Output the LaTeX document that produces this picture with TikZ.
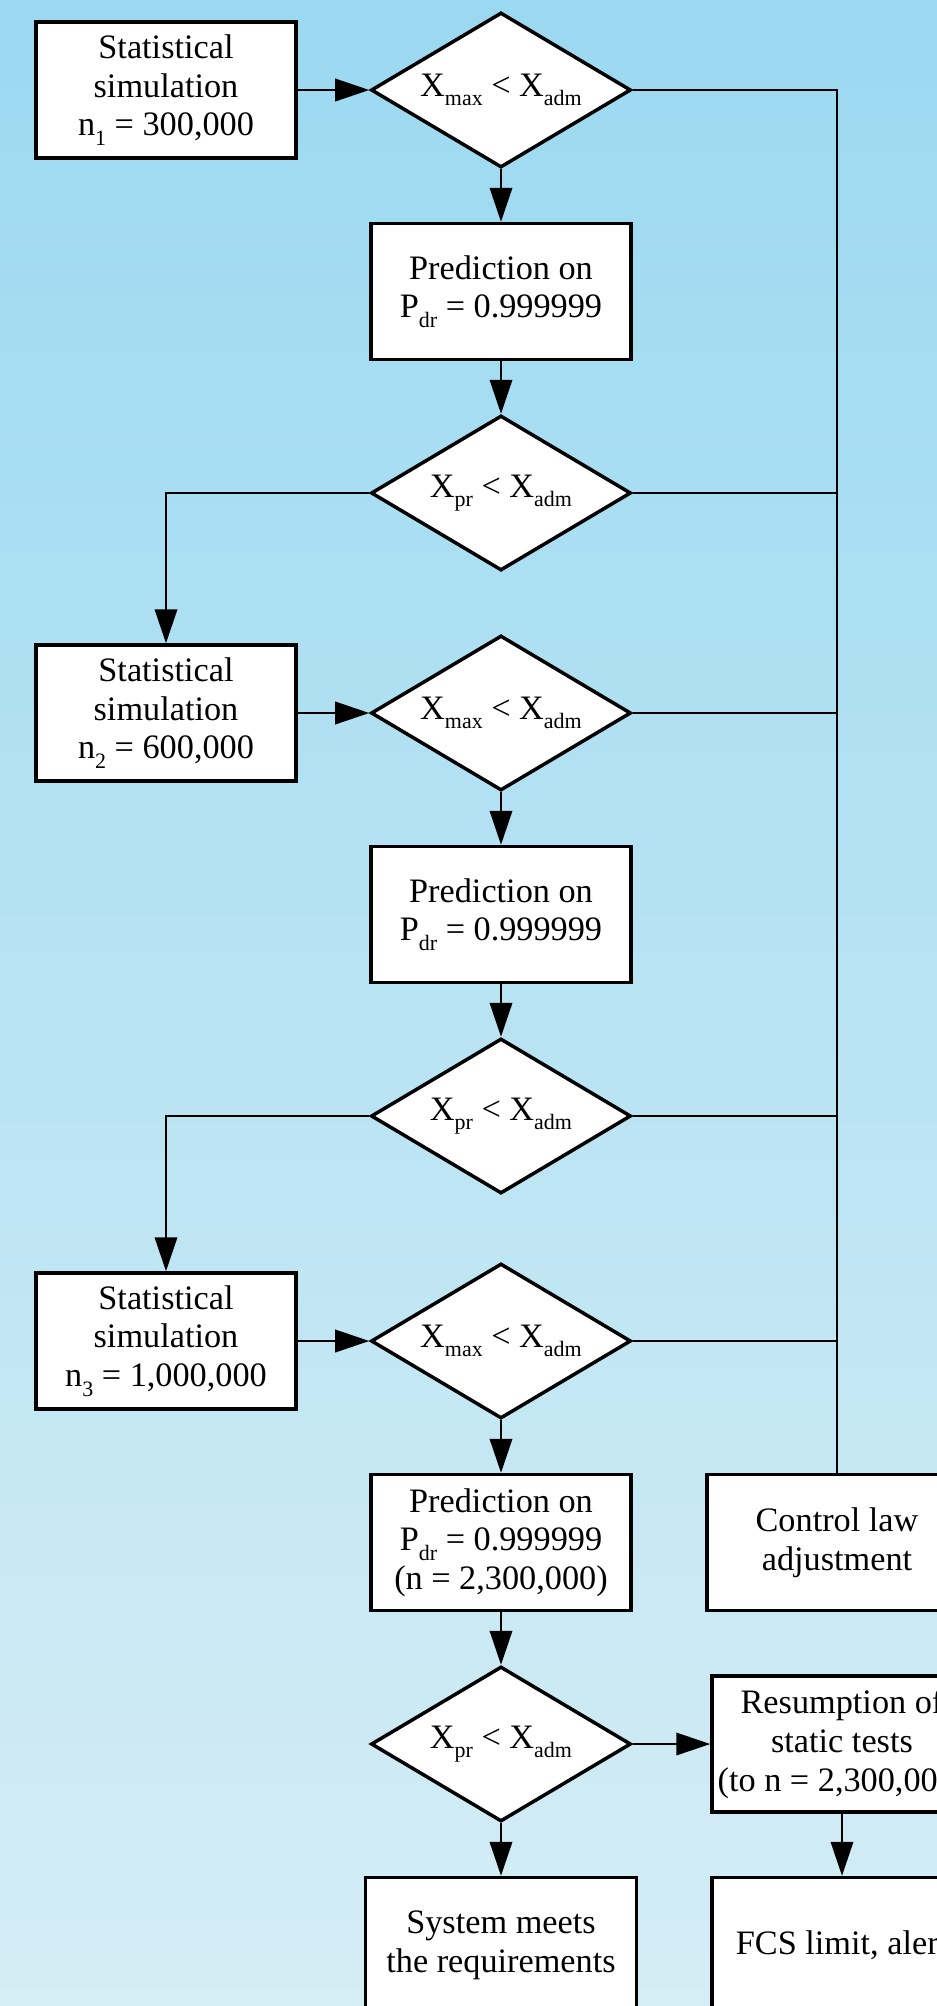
\documentclass[tikz,border=0pt]{standalone}
\usepackage{fontspec}
\setmainfont{Liberation Serif}
\usetikzlibrary{arrows.meta, positioning, shapes.geometric}
\definecolor{skytop}{RGB}{155,217,241}
\definecolor{skybottom}{RGB}{213,237,245}
\newcommand{\lowidx}[1]{\raisebox{-5.5pt}{\fontsize{12.5pt}{12}\selectfont #1}}
\tikzstyle{process} = [rectangle, minimum width=5.2cm, minimum height=2.72cm, inner sep=0pt, align=center, draw=black, line width=0.07cm, fill=white]
\tikzstyle{decision} = [diamond, shape aspect=1.68, minimum width=5.2cm, minimum height=3.1cm, inner sep=0pt, align=center, draw=black, line width=0.07cm, fill=white]
\tikzstyle{arrow} = [line width=0.04cm, -{Triangle[length=0.68cm, width=0.45cm]}]
\tikzstyle{link} = [line width=0.04cm]
\tikzset{
  font={\fontsize{19.5pt}{22}\selectfont}}

\begin{document}
\begin{tikzpicture}[node distance = 4.03cm]
    \useasboundingbox (0,0) rectangle (18.74,-40.12);
    \clip (0,0) rectangle (18.74,-40.12);
    \shade [top color=skytop, bottom color=skybottom] (0,0) rectangle (18.74,-40.12);

    \node (check1) [decision] at (10.02,-1.8) {X\lowidx{max} < X\lowidx{adm}};
    \node (sim1) [process, left of=check1, xshift=-2.67cm] {Statistical\\simulation\\n\lowidx{1} = 300,000};
    \node (pred1) [process, below of=check1] {Prediction on\\P\lowidx{dr} = 0.999999};
    \node (check2) [decision, below of=pred1] {X\lowidx{pr} < X\lowidx{adm}};
    \node (check3) [decision, below of=check2, yshift=-0.37cm] {X\lowidx{max} < X\lowidx{adm}};
    \node (sim2) [process, left of=check3, xshift=-2.67cm] {Statistical\\simulation\\n\lowidx{2} = 600,000};
    \node (pred2) [process, below of=check3] {Prediction on\\P\lowidx{dr} = 0.999999};
    \node (check4) [decision, below of=pred2] {X\lowidx{pr} < X\lowidx{adm}};
    \node (check5) [decision, below of=check4, yshift=-0.47cm] {X\lowidx{max} < X\lowidx{adm}};
    \node (sim3) [process, left of=check5, xshift=-2.67cm] {Statistical\\simulation\\n\lowidx{3} = 1,000,000};
    \node (pred3) [process, below of=check5] {Prediction on\\P\lowidx{dr} = 0.999999\\(n = 2,300,000)};
    \node (check6) [decision, below of=pred3] {X\lowidx{pr} < X\lowidx{adm}};
    \node (sysok) [process, below of=check6, minimum width=5.42cm] {System meets\\the requirements};
    \node (ctrl) [process, right of=pred3, xshift=2.69cm] {Control law\\adjustment};
    \node (resume) [process, right of=check6, xshift=2.79cm] {Resumption of\\static tests\\(to n = 2,300,000)};
    \node (fcs) [process, below of=resume] {FCS limit, alert};

    \draw [arrow] (sim1) -- (check1);
    \draw [arrow] (check1) -- (pred1);
    \draw [arrow] (pred1) -- (check2);
    \draw [arrow] (check2.west) -| (sim2.north);
    \draw [arrow] (sim2) -- (check3);
    \draw [arrow] (check3) -- (pred2);
    \draw [arrow] (pred2) -- (check4);
    \draw [arrow] (check4.west) -| (sim3.north);
    \draw [arrow] (sim3) -- (check5);
    \draw [arrow] (check5) -- (pred3);
    \draw [arrow] (pred3) -- (check6);
    \draw [arrow] (check6) -- (sysok);
    \draw [arrow] (check6) -- (resume);
    \draw [arrow] (resume) -- (fcs);

    % right trunk into the adjustment box
    \draw [link] (check1.east) -| (ctrl.north);
    \draw [link] (check2.east) -- (check2.east -| ctrl.north);
    \draw [link] (check3.east) -- (check3.east -| ctrl.north);
    \draw [link] (check4.east) -- (check4.east -| ctrl.north);
    \draw [link] (check5.east) -- (check5.east -| ctrl.north);
\end{tikzpicture}
\end{document}
